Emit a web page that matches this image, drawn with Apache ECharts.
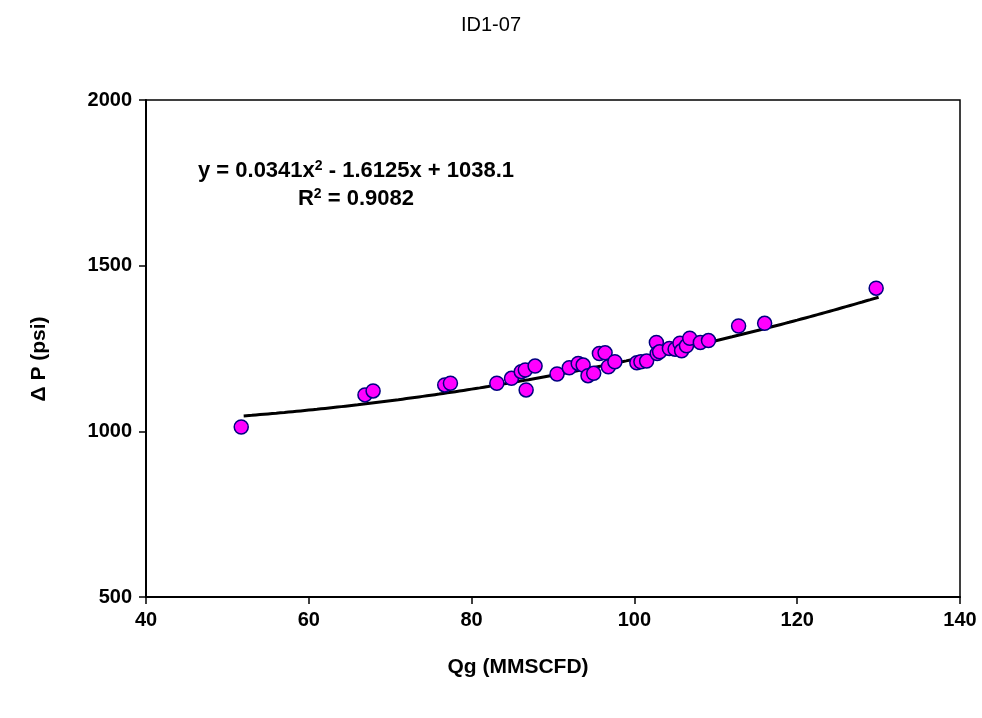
<!DOCTYPE html>
<html><head><meta charset="utf-8">
<script src="https://cdn.jsdelivr.net/npm/echarts@6/dist/echarts.min.js"></script>
<style>html,body{margin:0;padding:0;background:#fff}#c{width:982px;height:718px}</style>
</head><body><div id="c"></div>
<script>
var qg = [51.7, 66.9, 67.9, 76.7, 77.4, 83.1, 84.9, 86.1, 86.6, 86.7, 87.8, 90.5, 92.0, 93.1, 93.7, 94.3, 95.0, 95.7, 96.4, 96.8, 97.6, 100.3, 100.8, 101.5, 102.7, 102.8, 103.1, 104.3, 105.0, 105.6, 105.8, 106.4, 106.8, 108.1, 109.1, 112.8, 116.0, 129.7];
var dp = [1013, 1110, 1122, 1140, 1145, 1145, 1160, 1180, 1185, 1125, 1197, 1173, 1192, 1205, 1200, 1168, 1175, 1235, 1237, 1195, 1210, 1207, 1210, 1212, 1268, 1235, 1240, 1250, 1248, 1266, 1243, 1258, 1281, 1268, 1274, 1318, 1326, 1432];
var trendCoef = [0.0341, -1.6125, 1038.1];
var trendRange = [52, 130];
var xTicks = [40, 60, 80, 100, 120, 140];
var yTicks = [500, 1000, 1500, 2000];

var points = qg.map(function(x, i){ return [x, dp[i]]; });
var trend = [];
for (var x = trendRange[0]; x <= trendRange[1] + 1e-9; x += 1) {
  trend.push([x, trendCoef[0]*x*x + trendCoef[1]*x + trendCoef[2]]);
}
var FF = 'Liberation Sans, Arial, sans-serif';
var chart = echarts.init(document.getElementById('c'));
var tickFont = {fontFamily: FF, fontWeight: 'bold', fontSize: 20, color: '#000'};
var richEq = {
  a: {fontFamily: FF, fontWeight: 'bold', fontSize: 22, fill: '#000', color: '#000'},
  s: {fontFamily: FF, fontWeight: 'bold', fontSize: 14, fill: '#000', color: '#000', verticalAlign: 'top', padding: [0,0,10,0]}
};
chart.setOption({
  backgroundColor: '#fff',
  animation: false,
  title: {text: 'ID1-07', left: 'center', top: 10,
    textStyle: {fontFamily: FF, fontWeight: 'normal', fontSize: 20, color: '#000'}},
  grid: {left: 146, right: 22, top: 100, bottom: 121, show: true, borderColor: '#000', borderWidth: 1.5, backgroundColor: 'transparent'},
  xAxis: {type: 'value', min: xTicks[0], max: xTicks[xTicks.length-1], interval: 20,
    axisLine: {lineStyle: {color: '#000', width: 2}},
    axisTick: {show: true, inside: false, length: 7, lineStyle: {color: '#000', width: 1.5}},
    axisLabel: Object.assign({margin: 13}, tickFont),
    splitLine: {show: false}},
  yAxis: {type: 'value', min: yTicks[0], max: yTicks[yTicks.length-1], interval: 500,
    axisLine: {lineStyle: {color: '#000', width: 2}},
    axisTick: {show: true, inside: false, length: 7, lineStyle: {color: '#000', width: 1.5}},
    axisLabel: Object.assign({margin: 14, formatter: function(v){ return String(v); }}, tickFont),
    splitLine: {show: false}},
  series: [
    {type: 'line', data: trend, showSymbol: false, symbol: 'none', smooth: true,
     lineStyle: {color: '#000', width: 3}, z: 2},
    {type: 'scatter', data: points, symbol: 'circle', symbolSize: 14,
     itemStyle: {color: '#FF00FF', borderColor: '#000080', borderWidth: 1.5, opacity: 1}, z: 3}
  ],
  graphic: [
    {type: 'text', x: 356, y: 171, style: {rich: richEq, align: 'center', verticalAlign: 'middle',
      text: '{a|y = 0.0341x}{s|2}{a| - 1.6125x + 1038.1}'}},
    {type: 'text', x: 356, y: 199, style: {rich: richEq, align: 'center', verticalAlign: 'middle',
      text: '{a|R}{s|2}{a| = 0.9082}'}},
    {type: 'text', x: 518, y: 667, style: {text: 'Qg (MMSCFD)', font: 'bold 21px ' + FF, fill: '#000', align: 'center', verticalAlign: 'middle'}},
    {type: 'text', x: 39, y: 359, rotation: Math.PI/2, style: {text: '\u0394 P (psi)', font: 'bold 21px ' + FF, fill: '#000', align: 'center', verticalAlign: 'middle'}}
  ]
});
</script></body></html>
